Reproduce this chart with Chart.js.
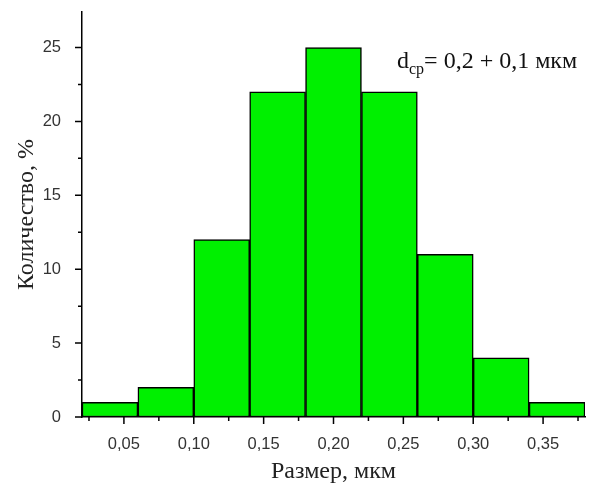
<!DOCTYPE html>
<html>
<head>
<meta charset="utf-8">
<script src="https://cdn.jsdelivr.net/npm/chart.js@4"></script>
<style>
  html, body { margin: 0; padding: 0; background: #fff; }
  #wrap { width: 595px; height: 486px; position: relative; }
</style>
</head>
<body>
<div id="wrap"><canvas id="hist"></canvas></div>
<script>
// Histogram data: bin centres (мкм) and counts (%)
const binCenters = [0.04, 0.08, 0.12, 0.16, 0.20, 0.24, 0.28, 0.32, 0.36];
const counts = [1, 2, 12, 22, 25, 22, 11, 4, 1];
const xMajorTicks = [0.05, 0.10, 0.15, 0.20, 0.25, 0.30, 0.35];
const xMinorTicks = [0.025, 0.075, 0.125, 0.175, 0.225, 0.275, 0.325, 0.375];
const yMajorTicks = [0, 5, 10, 15, 20, 25];
const yMinorTicks = [2.5, 7.5, 12.5, 17.5, 22.5];

const fmt = v => v.toFixed(2).replace('.', ',');

// outward tick marks, drawn from the scales
const tickMarks = {
    id: 'tickMarks',
    afterDraw(chart) {
        const { ctx, scales: { x, y } } = chart;
        ctx.save();
        ctx.strokeStyle = '#000';
        ctx.lineWidth = 1.5;
        ctx.beginPath();
        const yb = y.getPixelForValue(0);
        xMajorTicks.forEach(v => { const p = x.getPixelForValue(v); ctx.moveTo(p, yb); ctx.lineTo(p, yb + 7); });
        xMinorTicks.forEach(v => { const p = x.getPixelForValue(v); ctx.moveTo(p, yb); ctx.lineTo(p, yb + 4); });
        const xl = x.getPixelForValue(0.02);
        yMajorTicks.forEach(v => { const p = y.getPixelForValue(v); ctx.moveTo(xl, p); ctx.lineTo(xl - 7, p); });
        yMinorTicks.forEach(v => { const p = y.getPixelForValue(v); ctx.moveTo(xl, p); ctx.lineTo(xl - 4, p); });
        ctx.stroke();

        // annotation d_cp = 0,2 + 0,1 мкм
        ctx.fillStyle = '#111';
        ctx.textBaseline = 'alphabetic';
        ctx.font = '24px "Liberation Serif", serif';
        let tx = 397, ty = 68;
        ctx.fillText('d', tx, ty);
        tx += ctx.measureText('d').width;
        ctx.font = '16px "Liberation Serif", serif';
        ctx.fillText('ср', tx, ty + 6);
        tx += ctx.measureText('ср').width;
        ctx.font = '24px "Liberation Serif", serif';
        ctx.fillText('= 0,2 + 0,1 мкм', tx, ty);
        ctx.restore();
    }
};

new Chart(document.getElementById('hist'), {
    type: 'bar',
    data: {
        datasets: [{
            data: binCenters.map((c, i) => ({ x: c, y: counts[i] })),
            backgroundColor: '#00f000',
            borderColor: '#000',
            borderWidth: 1.5,
            borderSkipped: false,
            barPercentage: 1,
            categoryPercentage: 1
        }]
    },
    options: {
        responsive: true,
        maintainAspectRatio: false,
        animation: false,
        layout: { padding: { top: 12, right: 10 } },
        plugins: { legend: { display: false }, tooltip: { enabled: false } },
        scales: {
            x: {
                type: 'linear',
                min: 0.02,
                max: 0.38,
                offset: false,
                grid: { display: false },
                border: { display: true, color: '#000', width: 1.5 },
                afterBuildTicks: s => { s.ticks = xMajorTicks.map(v => ({ value: v })); },
                ticks: {
                    padding: 10,
                    color: '#333',
                    font: { family: '"Liberation Sans", Arial, sans-serif', size: 16.5 },
                    callback: v => fmt(v),
                    maxRotation: 0
                },
                title: {
                    display: true,
                    text: 'Размер, мкм',
                    color: '#222',
                    font: { family: '"Liberation Serif", serif', size: 24 },
                    padding: { top: 4, bottom: 0 }
                },
                afterFit: s => { s.height = 69; }
            },
            y: {
                min: 0,
                max: 27.4,
                grid: { display: false },
                border: { display: true, color: '#000', width: 1.5 },
                afterBuildTicks: s => { s.ticks = yMajorTicks.map(v => ({ value: v })); },
                ticks: {
                    padding: 13,
                    color: '#333',
                    font: { family: '"Liberation Sans", Arial, sans-serif', size: 16.5 }
                },
                title: {
                    display: true,
                    text: 'Количество, %',
                    color: '#222',
                    font: { family: '"Liberation Serif", serif', size: 24 },
                    padding: { top: 12, bottom: 0 }
                },
                afterFit: s => { s.width = 82; s.paddingTop = 0; s.paddingBottom = 0; }
            }
        }
    },
    plugins: [tickMarks]
});
</script>
</body>
</html>
